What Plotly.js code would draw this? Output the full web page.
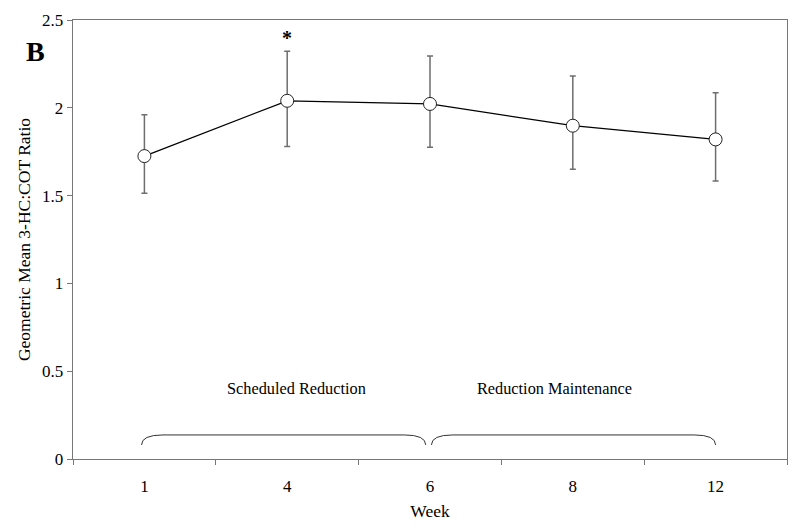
<!DOCTYPE html>
<html>
<head>
<meta charset="utf-8">
<script src="https://cdn.plot.ly/plotly-3.0.1.min.js"></script>
<style>html,body{margin:0;padding:0;background:#fff;}#chart{width:800px;height:531px;}</style>
</head>
<body>
<div id="chart"></div>
<script>
const weeks = ["1", "4", "6", "8", "12"];
const ratioMean = [1.725, 2.04, 2.022, 1.898, 1.82];
const upperCI = [1.96, 2.322, 2.295, 2.181, 2.086];
const lowerCI = [1.513, 1.78, 1.776, 1.65, 1.583];
const phaseLabels = ["Scheduled Reduction", "Reduction Maintenance"];
const phaseStart = [0, 2];
const phaseEnd = [2, 4];
const sigMarks = ["", "*", "", "", ""];

const xIdx = weeks.map((w, i) => i);
const errPlus = upperCI.map((u, i) => u - ratioMean[i]);
const errMinus = lowerCI.map((l, i) => ratioMean[i] - l);

const serif = "Liberation Serif, Times New Roman, serif";

const trace = {
  x: xIdx,
  y: ratioMean,
  type: "scatter",
  mode: "lines+markers",
  line: {color: "#000", width: 1.3},
  marker: {symbol: "circle", size: 13, color: "#fff", line: {color: "#222", width: 1}},
  error_y: {type: "data", symmetric: false, array: errPlus, arrayminus: errMinus,
            color: "#6e6e6e", thickness: 1.5, width: 3},
  showlegend: false,
  hoverinfo: "skip"
};

// brace shapes built in data coords
function bracePath(x0, x1, yTop, yEnd) {
  const r = 0.15;
  return `M ${x0},${yEnd} Q ${x0},${yTop} ${x0 + r},${yTop} L ${x1 - r},${yTop} Q ${x1},${yTop} ${x1},${yEnd}`;
}
const braceOffsets = [[-0.02, -0.03], [0.01, 0.0]];
const shapes = phaseStart.map((s, i) => ({
  type: "path", xref: "x", yref: "y",
  path: bracePath(s + braceOffsets[i][0], phaseEnd[i] + braceOffsets[i][1], 0.137, 0.08),
  line: {color: "#333", width: 1}
}));

const labelOffsets = [0.063, -0.126];
const annotations = phaseLabels.map((t, i) => ({
  x: (phaseStart[i] + phaseEnd[i]) / 2 + labelOffsets[i],
  y: 0.4, xref: "x", yref: "y", text: t, showarrow: false,
  font: {family: serif, size: 16.3, color: "#000"}
}));
sigMarks.forEach((m, i) => {
  if (m) annotations.push({x: xIdx[i], y: upperCI[i] + 0.075, xref: "x", yref: "y",
    text: "<b>" + m + "</b>", showarrow: false, font: {family: serif, size: 20, color: "#000"}});
});
annotations.push({x: -0.053, y: 0.929, xref: "paper", yref: "paper", text: "<b>B</b>",
  xanchor: "center", yanchor: "middle",
  showarrow: false, font: {family: serif, size: 28, color: "#000"}});

const layout = {
  width: 800, height: 531,
  margin: {l: 73, r: 13, t: 20, b: 72},
  paper_bgcolor: "#fff", plot_bgcolor: "#fff",
  font: {family: serif, color: "#000", size: 16},
  xaxis: {
    range: [-0.5, 4.5], tickmode: "array", tickvals: xIdx, ticktext: weeks,
    ticks: "", ticklabelstandoff: 11,
    showgrid: false, zeroline: false, showline: true, mirror: true,
    linecolor: "#777", linewidth: 1.3,
    minor: {tickmode: "linear", tick0: 0.5, dtick: 1, ticks: "outside", ticklen: 5, tickcolor: "#777", showgrid: false},
    tickfont: {family: serif, size: 17},
    title: {text: "Week", font: {family: serif, size: 17.5}, standoff: 10},
    fixedrange: true
  },
  yaxis: {
    range: [0, 2.5], tickvals: [0, 0.5, 1, 1.5, 2, 2.5], ticktext: ["0", "0.5", "1", "1.5", "2", "2.5"],
    ticks: "outside", ticklen: 5, tickcolor: "#777",
    showgrid: false, zeroline: false, showline: true, mirror: true,
    linecolor: "#777", linewidth: 1.3,
    tickfont: {family: serif, size: 17},
    title: {text: "Geometric Mean 3-HC:COT Ratio", font: {family: serif, size: 17.5}, standoff: 7},
    fixedrange: true
  },
  shapes: shapes,
  annotations: annotations
};

Plotly.newPlot("chart", [trace], layout, {displayModeBar: false, staticPlot: true});
</script>
</body>
</html>
